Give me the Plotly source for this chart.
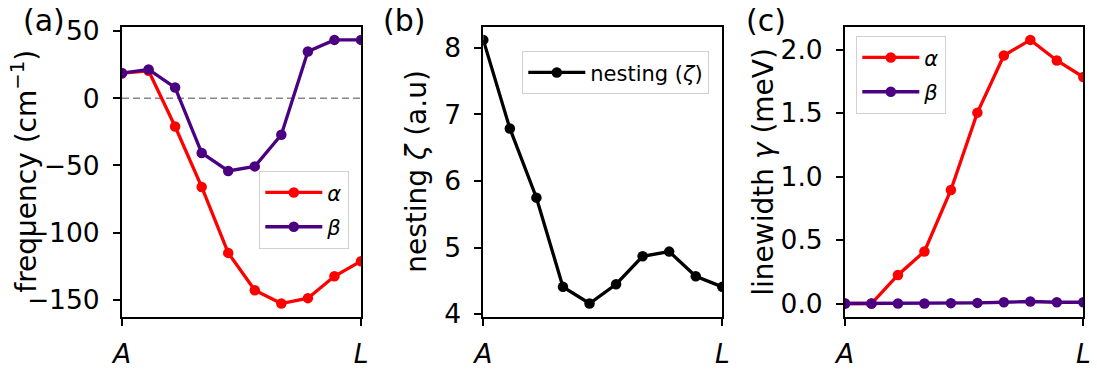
import plotly.graph_objects as go

# ---- data ----
kpoints = list(range(10))
k_ticktext = ["<i>A</i>", "<i>L</i>"]
freq_alpha = [18.7, 20.5, -21.0, -66.0, -115.1, -142.9, -152.8, -148.8, -132.5, -121.3]
freq_beta = [18.7, 21.5, 8.0, -40.7, -54.1, -50.7, -27.1, 34.8, 43.5, 43.5]
nesting = [8.12, 6.79, 5.75, 4.41, 4.16, 4.45, 4.87, 4.94, 4.57, 4.41]
gamma_alpha = [0.0, 0.0, 0.225, 0.41, 0.894, 1.503, 1.953, 2.076, 1.914, 1.783]
gamma_beta = [0.0, 0.0, 0.0, 0.0, 0.003, 0.005, 0.01, 0.016, 0.01, 0.01]

RED = "#ff0000"
INDIGO = "#4b0082"
FONT = "DejaVu Sans"
W, H = 1097, 372

def px(x):
    return x / W

def py(y):
    return 1 - y / H

ytop, ybot = 26.7, 316.7
doms = [(122, 361), (483.3, 722.3), (845, 1083.3)]

fig = go.Figure()
line_w = 3.3
msize = 10.5

def add(x, y, color, name, axis, legend, show=True):
    fig.add_trace(go.Scatter(
        x=x, y=y, mode="lines+markers", name=name,
        line=dict(color=color, width=line_w),
        marker=dict(color=color, size=msize),
        xaxis="x" + axis, yaxis="y" + axis,
        legend=legend, showlegend=show, legendgroup=name + axis,
    ))

add(kpoints, freq_alpha, RED, "<i>α</i>", "", "legend")
add(kpoints, freq_beta, INDIGO, "<i>β</i>", "", "legend")
add(kpoints, nesting, "#000000", "nesting (<i>ζ</i>)", "2", "legend2")
add(kpoints, gamma_alpha, RED, "<i>α</i>", "3", "legend3")
add(kpoints, gamma_beta, INDIGO, "<i>β</i>", "3", "legend3")

def dmin_max(*arrs):
    lo = min(min(a) for a in arrs)
    hi = max(max(a) for a in arrs)
    m = 0.05 * (hi - lo)
    return [lo - m, hi + m]

axis_common = dict(
    showline=True, linecolor="black", linewidth=2, mirror=True,
    ticks="outside", ticklen=7, tickwidth=1.8, tickcolor="black",
    showgrid=False, zeroline=False, automargin=False,
    tickfont=dict(family=FONT, size=26.5, color="black"),
)

layout = dict(
    template="none",
    width=W, height=H,
    margin=dict(l=0, r=0, t=0, b=0, autoexpand=False),
    paper_bgcolor="white", plot_bgcolor="white",
    font=dict(family=FONT, color="black"),
)

yranges = [dmin_max(freq_alpha, freq_beta), dmin_max(nesting), dmin_max(gamma_alpha, gamma_beta)]
ytickvals = [[-150, -100, -50, 0, 50], [4, 5, 6, 7, 8], [0, 0.5, 1.0, 1.5, 2.0]]
yticktext = [None, None, ["0.0", "0.5", "1.0", "1.5", "2.0"]]
sfx = ["", "2", "3"]
for i, (d, s) in enumerate(zip(doms, sfx)):
    layout["xaxis" + s] = dict(
        axis_common, domain=[px(d[0]), px(d[1])], range=[0, 9],
        tickvals=[0, 9], ticktext=k_ticktext, anchor="y" + s,
        ticklabelstandoff=5,
    )
    ya = dict(
        axis_common, domain=[py(ybot), py(ytop)], range=yranges[i],
        tickvals=ytickvals[i], anchor="x" + s, ticklabelstandoff=8,
    )
    if yticktext[i]:
        ya["ticktext"] = yticktext[i]
    layout["yaxis" + s] = ya

leg_common = dict(
    bgcolor="rgba(255,255,255,0.8)", bordercolor="#d0d0d0", borderwidth=1.3,
    font=dict(family=FONT, size=21, color="black"),
    xanchor="left", yanchor="top", tracegroupgap=4, itemwidth=57,
)
layout["legend"] = dict(leg_common, x=px(259), y=py(171))
layout["legend2"] = dict(leg_common, x=px(522), y=py(51))
layout["legend3"] = dict(leg_common, x=px(856), y=py(36))

fig.update_layout(**layout)

# zero reference line in panel (a)
fig.add_shape(type="line", xref="x domain", yref="y", x0=0, x1=1, y0=0, y1=0,
              line=dict(color="#888888", width=1.6, dash="7px,4px"), layer="below")

# axis titles and panel labels
titles = [("frequency (cm<sup>−1</sup>)", 25), ("nesting <i>ζ</i> (a.u)", 417), ("linewidth <i>γ</i> (meV)", 764)]
ymid = py((ytop + ybot) / 2)
for t, xc in titles:
    fig.add_annotation(text=t, x=px(xc), y=ymid, xref="paper", yref="paper",
                       xanchor="center", yanchor="middle", textangle=-90,
                       showarrow=False, font=dict(family=FONT, size=28, color="black"))
for lab, xc in [("(a)", 44), ("(b)", 404), ("(c)", 766)]:
    fig.add_annotation(text=lab, x=px(xc), y=py(1), xref="paper", yref="paper",
                       xanchor="center", yanchor="top", showarrow=False,
                       font=dict(family=FONT, size=30, color="black"))

fig.write_html("out.html")
